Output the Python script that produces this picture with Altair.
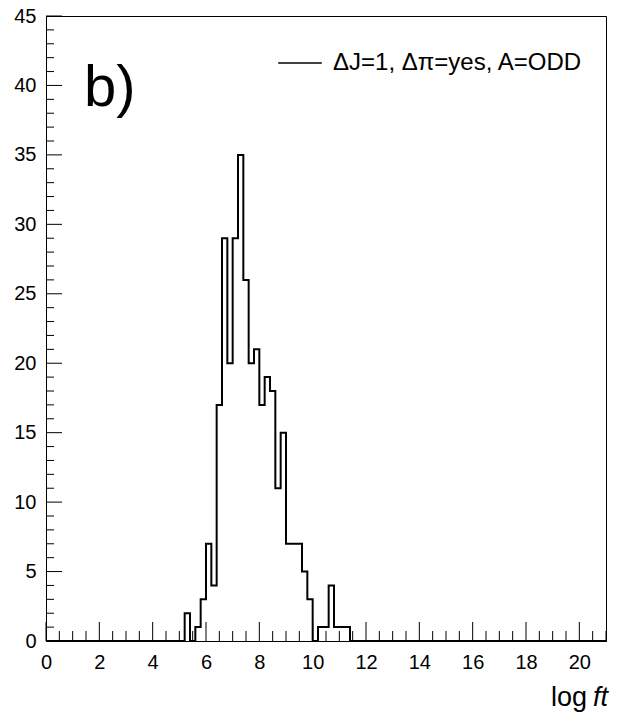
import altair as alt
import pandas as pd

# ---- data ----
bin_width = 0.2
x_min, x_max = 0.0, 21.0
first_bin_left = 5.2
counts = [2, 0, 1, 3, 7, 4, 17, 29, 20, 29, 35, 26, 20, 21, 17, 19, 18, 11, 15,
          7, 7, 7, 5, 3, 0, 1, 1, 4, 1, 1, 1]
series_name = "ΔJ=1, Δπ=yes, A=ODD"

x_major = [0, 2, 4, 6, 8, 10, 12, 14, 16, 18, 20]
x_minor = [i * 0.5 for i in range(0, 43) if (i * 0.5) % 2 != 0]
y_major = [0, 5, 10, 15, 20, 25, 30, 35, 40, 45]
y_minor = [i for i in range(0, 46) if i % 5 != 0]

# ---- build histogram step table ----
n_bins = int(round((x_max - x_min) / bin_width))
start_idx = int(round((first_bin_left - x_min) / bin_width))
vals = [0] * n_bins
for i, c in enumerate(counts):
    vals[start_idx + i] = c
edges = [round(x_min + i * bin_width, 4) for i in range(n_bins)] + [x_max]
vals = vals + [vals[-1]]
hist = pd.DataFrame({"x": edges, "count": vals, "series": series_name})

W, H = 560, 625
xs = alt.Scale(domain=[x_min, x_max], nice=False, zero=False)
ys = alt.Scale(domain=[0, 45], nice=False)

x_axis = alt.Axis(values=x_major, ticks=False, grid=False, title=None,
                  labelFontSize=20, labelPadding=11, labelColor="black",
                  labelFont="Liberation Sans", domainColor="black",
                  domainWidth=1, labelFlush=False)
y_axis = alt.Axis(values=y_major, ticks=False, grid=False, title=None,
                  labelFontSize=20, labelPadding=10, labelColor="black",
                  labelFont="Liberation Sans", domainColor="black",
                  domainWidth=1, labelFlush=False)

line = alt.Chart(hist).mark_line(interpolate="step-after", strokeWidth=2).encode(
    x=alt.X("x:Q", scale=xs, axis=x_axis),
    y=alt.Y("count:Q", scale=ys, axis=y_axis),
    color=alt.Color("series:N",
                    scale=alt.Scale(domain=[series_name], range=["black"]),
                    legend=alt.Legend(title=None, orient="none", legendX=231,
                                      legendY=24, symbolType="stroke",
                                      symbolSize=1900, symbolStrokeWidth=1.5,
                                      labelFontSize=24, labelOffset=10,
                                      labelFont="Liberation Sans",
                                      labelColor="black", labelLimit=400)),
)

def xticks(values, length):
    df = pd.DataFrame({"v": values})
    return alt.Chart(df).mark_rule(color="black", strokeWidth=1).encode(
        x=alt.X("v:Q", scale=xs, axis=x_axis), y=alt.value(H),
        y2=alt.value(H - length))

def yticks(values, length):
    df = pd.DataFrame({"v": values})
    return alt.Chart(df).mark_rule(color="black", strokeWidth=1).encode(
        y=alt.Y("v:Q", scale=ys, axis=y_axis), x=alt.value(0),
        x2=alt.value(length))

annot = pd.DataFrame({"t": ["b)"]})
label_b = alt.Chart(annot).mark_text(
    text="b)", fontSize=58, font="Liberation Sans", align="left",
    baseline="alphabetic", color="black").encode(
    x=alt.value(38), y=alt.value(90))

log_txt = alt.Chart(annot).mark_text(
    text="log", fontSize=27, font="Liberation Sans", align="right",
    baseline="alphabetic", color="black").encode(
    x=alt.value(541), y=alt.value(690))
ft_txt = alt.Chart(annot).mark_text(
    text="ft", fontSize=27, font="Liberation Sans", fontStyle="italic",
    align="right", baseline="alphabetic", color="black").encode(
    x=alt.value(562), y=alt.value(690))

chart = alt.layer(
    line,
    xticks(x_major, 19), xticks(x_minor, 10),
    yticks(y_major, 16), yticks(y_minor, 8),
    label_b, log_txt, ft_txt,
).properties(
    width=W, height=H,
    autosize=alt.AutoSizeParams(type="none"),
    padding={"left": 38, "top": 8, "right": 10, "bottom": 90},
    background="white",
).configure_view(stroke="black", strokeWidth=1)

chart.save("out.html", embed_options={"renderer": "svg", "actions": False})
